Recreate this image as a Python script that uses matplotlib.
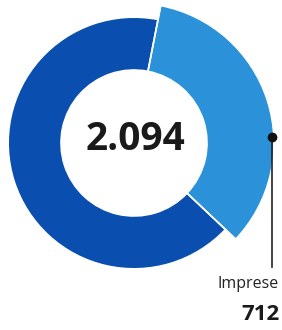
import matplotlib
matplotlib.use("Agg")
import matplotlib.pyplot as plt

# data
labels = ["Imprese", "Altri"]
values = [712, 1382]
total_label = "2.094"

dark = "#0a4eb0"
light = "#2b92da"

fig = plt.figure(figsize=(2.82, 3.30), dpi=100)
ax = fig.add_axes([0, 0, 1, 1])

cx, cy = 134, 187
r_out = 125
r_in = 73

# dark ring (other slice left transparent)
ax.pie(values, radius=r_out, center=(cx, cy), startangle=79, counterclock=False,
       colors=["none", dark], frame=True,
       wedgeprops=dict(width=r_out - r_in, edgecolor="none"))
# highlighted slice, drawn a bit wider
ax.pie(values, radius=r_out + 15, center=(cx, cy), startangle=79, counterclock=False,
       colors=[light, "none"], frame=True,
       wedgeprops=dict(width=r_out + 15 - r_in, edgecolor="white", linewidth=1.2))

ax.set_xlim(0, 282)
ax.set_ylim(0, 330)
ax.axis("off")

ax.text(cx + 1, cy + 3, total_label, ha="center", va="center",
        fontsize=28, fontweight="bold", color="#1a1a1a", family=["Open Sans", "DejaVu Sans"])

# leader
ax.plot([272, 272], [193, 63], color="#222222", lw=1.2)
ax.plot([272], [193], "o", color="#111111", ms=6)
ax.text(279, 46, labels[0], ha="right", va="center", fontsize=11.5,
        color="#222222", family=["Liberation Sans Narrow", "Open Sans", "DejaVu Sans"])
ax.text(280, 16, str(values[0]), ha="right", va="center", fontsize=16,
        fontweight="bold", color="#1a1a1a", family=["Open Sans", "DejaVu Sans"])

fig.savefig("out.png", dpi=100)
